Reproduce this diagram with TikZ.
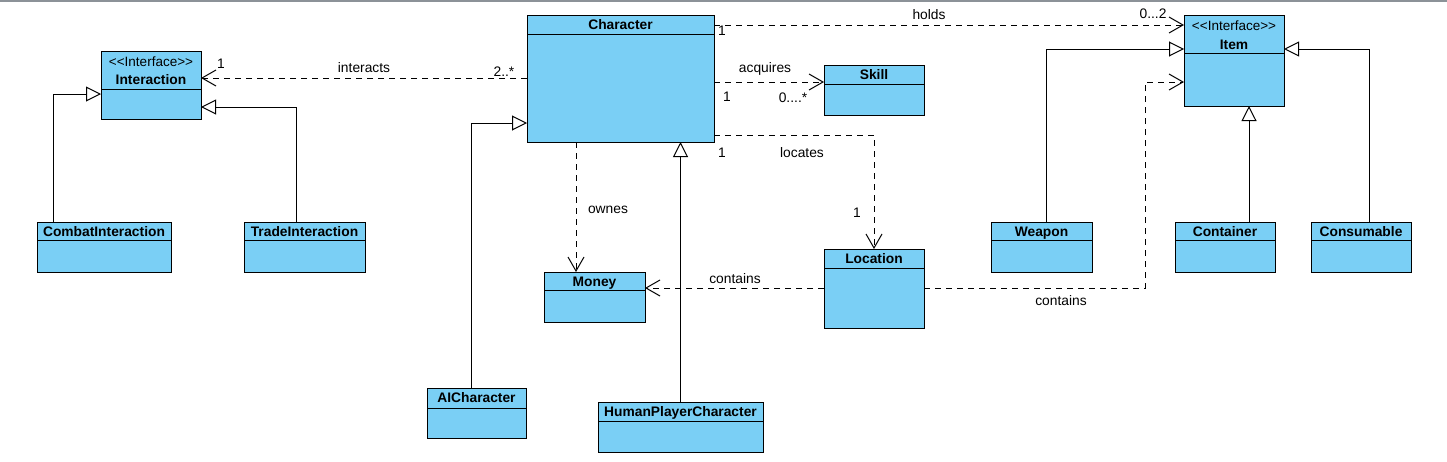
\documentclass[tikz,border=0pt]{standalone}
\usepackage{fontspec}
\setmainfont{Liberation Sans}
\usetikzlibrary{arrows.meta,calc}
\definecolor{clsfill}{RGB}{122,207,245}
\definecolor{topline}{RGB}{140,146,152}
\tikzset{
  cls/.style={draw=black, fill=clsfill, line width=1pt, inner sep=0pt, outer sep=0pt, anchor=north west},
  ctitle/.style={font=\fontsize{13.8}{15}\selectfont\bfseries, inner sep=0pt, text height=9.9pt, text depth=0pt},
  stereo/.style={font=\fontsize{13.5}{15}\selectfont, inner sep=0pt, text height=9.7pt, text depth=0pt},
  lbl/.style={font=\fontsize{13.8}{15}\selectfont, inner sep=0pt, text height=9.9pt, text depth=0pt},
  conn/.style={line width=1pt, draw=black},
  dep/.style={conn, dash pattern=on 6pt off 5pt, -{Straight Barb[length=14pt,width=16pt,line width=1pt]}},
  gen/.style={conn, -{Triangle[open,length=15pt,width=15pt,fill=white,line width=1pt]}},
}
\newcommand\umlcls[6]{%
  \node[cls, minimum width={(#4-#2)*1pt}, minimum height={(#5-#3)*1pt}] (#1) at (#2,#3) {};
  \draw[line width=1pt] (#2,#6) -- (#4,#6);
}
\newcommand\stereotxt{<{}<Interface>{}>}
\begin{document}
\begin{tikzpicture}[x=1pt,y=-1pt]
\useasboundingbox (0,0) rectangle (1447,461);
\fill[white] (0,0) rectangle (1447,461);
\draw[topline, line width=2pt] (0,1) -- (1447,1);

% classes
\umlcls{inter}{101}{51}{201}{119}{89}
\node[stereo] (inter-s) at (151,62) {\stereotxt};
\node[ctitle] (inter-t) at (151,80) {Interaction};
\umlcls{combat}{37}{222}{171}{272}{240}
\node[ctitle] (combat-t) at (104,231.5) {CombatInteraction};
\umlcls{trade}{244}{222}{365}{272}{240}
\node[ctitle] (trade-t) at (304.5,231.5) {TradeInteraction};
\umlcls{char}{527}{15}{714}{142}{34}
\node[ctitle] (char-t) at (620.5,25) {Character};
\umlcls{skill}{824}{65}{924}{115}{84}
\node[ctitle] (skill-t) at (874,75) {Skill};
\umlcls{money}{544}{272}{645}{322}{290}
\node[ctitle] (money-t) at (594.5,282) {Money};
\umlcls{loc}{824}{249}{924}{328}{268}
\node[ctitle] (loc-t) at (874,259) {Location};
\umlcls{ai}{427}{388}{526}{438}{408}
\node[ctitle] (ai-t) at (476.5,398) {AICharacter};
\umlcls{hpc}{598}{402}{763}{452}{421}
\node[ctitle] (hpc-t) at (680.5,412) {HumanPlayerCharacter};
\umlcls{item}{1184}{15}{1284}{106}{53}
\node[stereo] (item-s) at (1234,26) {\stereotxt};
\node[ctitle] (item-t) at (1234,45) {Item};
\umlcls{weapon}{991}{222}{1092}{272}{240}
\node[ctitle] (weapon-t) at (1041.5,232) {Weapon};
\umlcls{container}{1175}{222}{1275}{272}{240}
\node[ctitle] (container-t) at (1225,232) {Container};
\umlcls{cons}{1311}{222}{1411}{272}{240}
\node[ctitle] (cons-t) at (1361,232) {Consumable};

% generalizations
\draw[gen] (combat.north -| 53,0) |- (inter.west |- 0,94);
\draw[gen] (trade.north -| 296,0) |- (inter.east |- 0,107);
\draw[gen] (ai.north -| 471,0) |- (char.west |- 0,123);
\draw[gen] (hpc.north -| 680.5,0) -- (char.south -| 680.5,0);
\draw[gen] (weapon.north -| 1046,0) |- (item.west |- 0,49);
\draw[gen] (container.north -| 1249,0) -- (item.south -| 1249,0);
\draw[gen] (cons.north -| 1369,0) |- (item.east |- 0,49);

% dependencies
\draw[dep] (char.west |- 0,78) -- (inter.east |- 0,78);
\draw[dep] (char.east |- 0,25) -- (item.west |- 0,25);
\draw[dep] (char.east |- 0,82) -- (skill.west |- 0,82);
\draw[dep] (char.east |- 0,135) -| (loc.north);
\draw[dep] (char.south -| 576,0) -- (money.north -| 576,0);
\draw[dep] (loc.west |- 0,288) -- (money.east |- 0,288);
\coordinate (bend) at (1145,82);
\draw[dep] (loc.east |- 0,288) -| (bend) -- (item.west |- bend);

% labels
\node[lbl] (l1) at (221,64) {1};
\node[lbl] (l2) at (364,68) {interacts};
\node[lbl] (l3) at (504,72) {2..*};
\node[lbl] (l4) at (722,31) {1};
\node[lbl] (l5) at (929,15) {holds};
\node[lbl] (l6) at (1153,14) {0...2};
\node[lbl] (l7) at (765,68) {acquires};
\node[lbl] (l8) at (727,97) {1};
\node[lbl] (l9) at (793,98) {0....*};
\node[lbl] (l10) at (722,153) {1};
\node[lbl] (l11) at (802,153) {locates};
\node[lbl] (l12) at (857,213) {1};
\node[lbl] (l13) at (608,209) {ownes};
\node[lbl] (l14) at (735,279) {contains};
\node[lbl] (l15) at (1061,301) {contains};
\end{tikzpicture}
\end{document}
